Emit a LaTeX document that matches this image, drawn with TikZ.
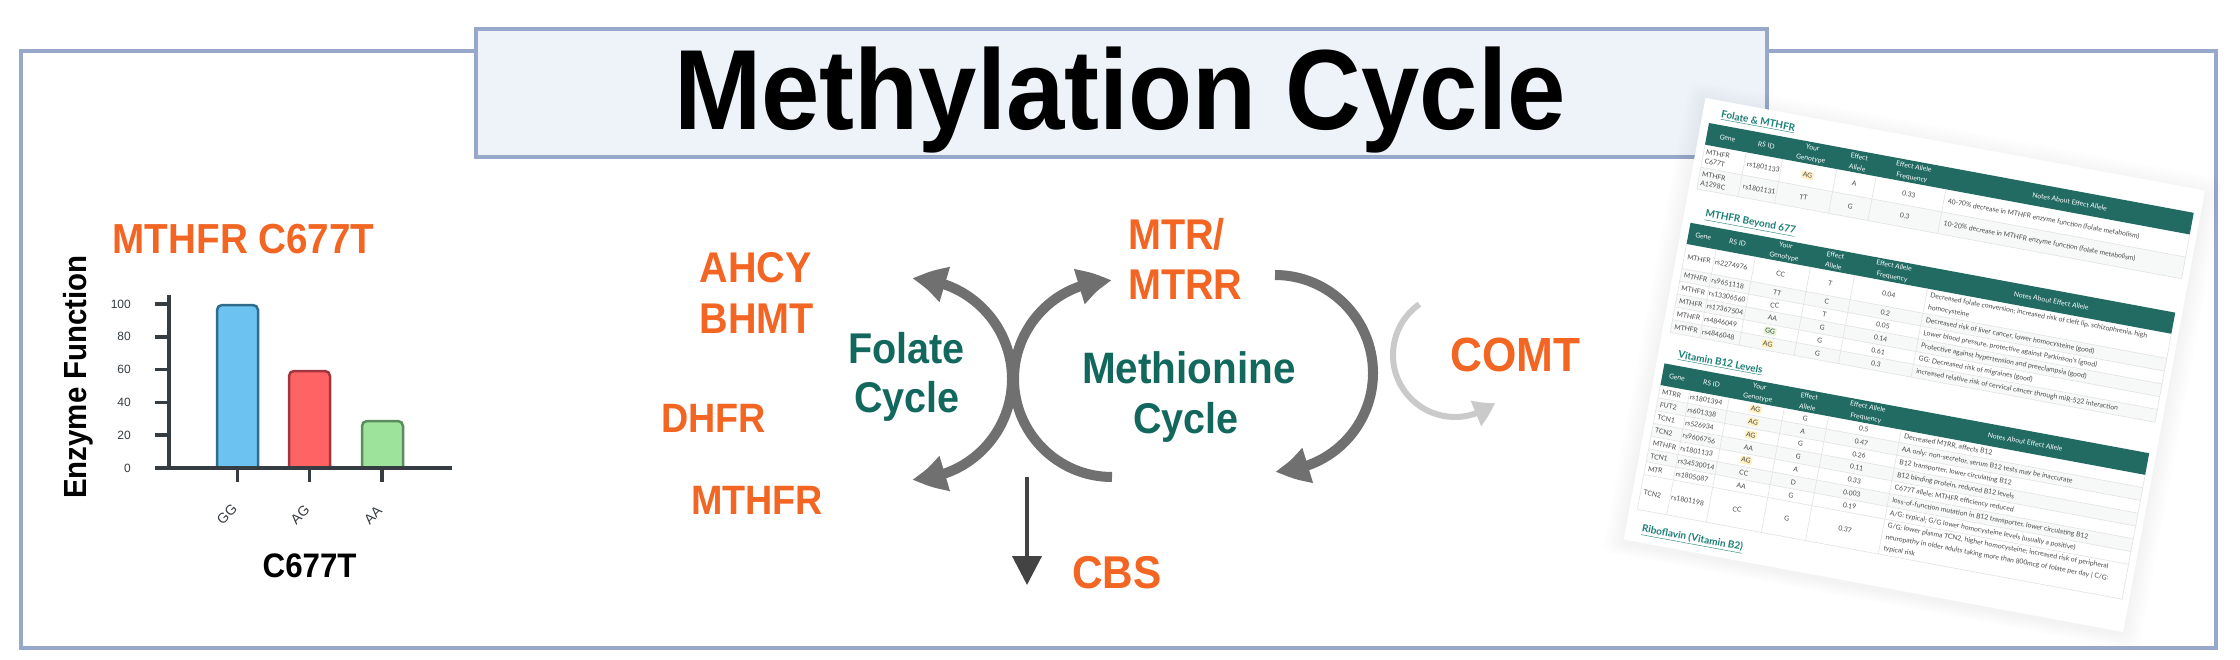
\documentclass[tikz,border=0pt]{standalone}
\usepackage{fontspec}
\setmainfont{Liberation Sans}
\newfontfamily\lblfont{Liberation Sans}[FakeStretch=0.92]
\newfontfamily\tblfont{Lato}
\usetikzlibrary{arrows.meta,bending}
\definecolor{frameblue}{HTML}{97A8CA}
\definecolor{titlefill}{HTML}{EEF3FA}
\definecolor{orng}{HTML}{F26522}
\definecolor{tealtxt}{HTML}{12685C}
\definecolor{arcgray}{HTML}{707070}
\definecolor{lightarc}{HTML}{CACACA}
\definecolor{darkarrow}{HTML}{434343}
\definecolor{axisc}{HTML}{353C42}
\definecolor{barblue}{HTML}{6CC2F0}
\definecolor{barblueo}{HTML}{2F6B8C}
\definecolor{barred}{HTML}{FF6363}
\definecolor{barredo}{HTML}{A23640}
\definecolor{bargreen}{HTML}{9DE39C}
\definecolor{bargreeno}{HTML}{5B8C5E}
\definecolor{thead}{HTML}{216B63}
\definecolor{ttitle}{HTML}{1A7F74}
\definecolor{ttext}{HTML}{4A4A4A}
\definecolor{tgrid}{HTML}{E2E2E2}
\definecolor{rowalt}{HTML}{F7F8F8}
\definecolor{hlyel}{HTML}{FFF0BF}
\definecolor{hlgrn}{HTML}{E0F3D2}
\tikzset{
  lbl/.style={font=\lblfont\bfseries\fontsize{43}{48}\selectfont, text=orng, inner sep=0pt, anchor=base west},
  cyc/.style={lbl, text=tealtxt},
  arcline/.style={draw=arcgray, line width=10pt},
  axisline/.style={draw=axisc, line width=3.5pt},
  ticklbl/.style={font=\fontsize{12}{14}\selectfont, text=axisc, inner sep=0pt, anchor=east},
  catlbl/.style={font=\fontsize{14}{16}\selectfont, text=axisc, inner sep=0pt, rotate=45},
  tc/.style={font=\tblfont\fontsize{6.8}{9}\selectfont, text=ttext, inner sep=0pt},
  tl/.style={tc, anchor=west, align=left},
  th/.style={font=\tblfont\fontsize{6.8}{11}\selectfont, text=white, inner sep=0pt, align=center},
  ttl/.style={font=\tblfont\bfseries\fontsize{10}{12}\selectfont, text=ttitle, inner sep=0pt, anchor=west},
  hly/.style={fill=hlyel, inner sep=1.3pt, rounded corners=1pt},
  hlg/.style={fill=hlgrn, inner sep=1.3pt, rounded corners=1pt},
  nohl/.style={},
  gridl/.style={draw=tgrid, line width=0.6pt}
}
\newcommand\rowB[7]{%
  \node[tl] at (3,#1) {#2};
  \node[tl] at (31,#1) {#3};
  \node[tc,#4] at (98,#1) {#5};
  \node[tc] at (148.5,#1) {#6};
  \node[tc] at (208,#1) {#7};}
\newcommand\headB[1]{%
  \node[th] at (15,#1) {Gene};
  \node[th] at (50,#1) {RS ID};
  \node[th] at (98,#1) {Your\\Genotype};
  \node[th] at (148.5,#1) {Effect\\Allele};
  \node[th] at (208,#1) {Effect Allele\\Frequency};
  \node[th] at (369,#1) {Notes About Effect Allele};}
\begin{document}
\begin{tikzpicture}[x=1pt,y=-1pt, >={Triangle[length=34pt,width=34pt,bend]}]
\useasboundingbox (0,0) rectangle (2240,660);
\fill[white] (0,0) rectangle (2240,660);
% outer frame
\draw[draw=frameblue, line width=4pt] (21,51) rectangle (2216,648);
% title box
\node[draw=frameblue, fill=titlefill, line width=4pt, minimum width=1291pt, minimum height=128pt, inner sep=0pt, anchor=north west] (titlebox) at (474,27) {};
\node[font=\lblfont\bfseries\fontsize{114}{120}\selectfont, inner sep=0pt, anchor=base] (title) at (1120,130) {Methylation Cycle};

% ---- bar chart ----
\node[lbl, font=\lblfont\bfseries\fontsize{42}{46}\selectfont] (charttitle) at (112.5,254) {MTHFR C677T};
\filldraw[fill=barblue, draw=barblueo, line width=2.5pt, rounded corners=5pt] (217,468) -- (217,305) -- (258,305) -- (258,468);
\filldraw[fill=barred, draw=barredo, line width=2.5pt, rounded corners=5pt] (289,468) -- (289,371) -- (330,371) -- (330,468);
\filldraw[fill=bargreen, draw=bargreeno, line width=2.5pt, rounded corners=5pt] (362,468) -- (362,421) -- (403,421) -- (403,468);
\draw[axisline] (169,295) -- (169,468);
\draw[axisline] (155,468) -- (452,468);
\foreach \v in {0,20,40,60,80,100} {
  \draw[axisline] (155,{468-1.64*\v}) -- (169,{468-1.64*\v});
  \node[ticklbl] at (131,{468-1.64*\v}) {\v};
}
\foreach \x in {237.5,309.5,382} \draw[axisline] (\x,468) -- (\x,482);
\node[catlbl] (cgg) at (227,514) {GG};
\node[catlbl] (cag) at (300,515) {AG};
\node[catlbl] (caa) at (373,515) {AA};
\node[font=\lblfont\bfseries\fontsize{32}{36}\selectfont, rotate=90, anchor=base, inner sep=0pt] (ylab) at (86,377) {Enzyme Function};
\node[lbl, text=black, font=\lblfont\bfseries\fontsize{34}{38}\selectfont] (xlab) at (262.5,577) {C677T};

% ---- cycles ----
\draw[arcline, <->] (912,279) arc[start angle=-90, end angle=90, radius=100];
\draw[arcline, ->] (1112,477) arc[start angle=90, end angle=270, radius=98];
\draw[arcline, ->] (1275,275) arc[start angle=-90, end angle=90, radius=98];
\draw[draw=lightarc, line width=6pt, -{Triangle[length=22pt,width=26pt,bend]}] (1419.4,304.2) arc[start angle=235, end angle=50, radius=62];
\draw[draw=darkarrow, line width=4pt, -{Triangle[length=29pt,width=29pt]}] (1027,477) -- (1027,585);

\node[lbl] (ahcy) at (699.5,283) {AHCY};
\node[lbl] (bhmt) at (699.5,333) {BHMT};
\node[lbl, font=\lblfont\bfseries\fontsize{41}{46}\selectfont] (dhfr) at (661,432) {DHFR};
\node[lbl, font=\lblfont\bfseries\fontsize{41}{46}\selectfont] (mthfr) at (691,514) {MTHFR};
\node[lbl] (mtr) at (1128,250) {MTR/};
\node[lbl] (mtrr) at (1128,299) {MTRR};
\node[lbl, font=\lblfont\bfseries\fontsize{46}{50}\selectfont] (cbs) at (1072,588) {CBS};
\node[lbl, font=\lblfont\bfseries\fontsize{48}{52}\selectfont] (comt) at (1450,371) {COMT};
\node[cyc] (fol1) at (848,363) {Folate};
\node[cyc] (fol2) at (854,412) {Cycle};
\node[cyc, font=\lblfont\bfseries\fontsize{44}{48}\selectfont] (met1) at (1082,383) {Methionine};
\node[cyc] (met2) at (1133,433.5) {Cycle};

% ---- rotated table screenshot ----
\begin{scope}[shift={(1709,123)}, rotate=-10.5, transform shape]
  \foreach \i in {1,...,12} {
    \fill[black, opacity=0.005, rounded corners=8pt] ({-8-1.6*\i},{-24-1.6*\i+4}) rectangle ({500+1.6*\i},{425+1.1*\i+3});
  }
  \fill[white] (-8,-24) rectangle (500,425);
  % table 1
  \node[ttl] at (10.5,-10) {\underline{Folate \& MTHFR}};
  \fill[thead] (0,0) rectangle (493,22);
  \node[th] at (21,11.5) {Gene};
  \node[th] at (60.5,11.5) {RS ID};
  \node[th] at (106.5,11.5) {Your\\Genotype};
  \node[th] at (154,11.5) {Effect\\Allele};
  \node[th] at (209.5,11.5) {Effect Allele\\Frequency};
  \node[th] at (369,11.5) {Notes About Effect Allele};
  \fill[rowalt] (0,45) rectangle (493,67);
  \draw[gridl] (0,45) -- (493,45) (0,67) -- (493,67) (0,22) -- (0,67) (493,22) -- (493,67);
  \foreach \x in {42,79,134,174,245} \draw[gridl] (\x,22) -- (\x,67);
  \node[tl] at (2.5,33.5) {MTHFR\\C677T};
  \node[tc] at (61.5,33.5) {rs1801133};
  \node[tc,hly] at (106.5,33.5) {AG};
  \node[tc] at (154,33.5) {A};
  \node[tc] at (209.5,33.5) {0.33};
  \node[tl] at (249,33.5) {40-70\% decrease in MTHFR enzyme function (folate metabolism)};
  \node[tl] at (2.5,56) {MTHFR\\A1298C};
  \node[tc] at (61.5,56) {rs1801131};
  \node[tc] at (106.5,56) {TT};
  \node[tc] at (154,56) {G};
  \node[tc] at (209.5,56) {0.3};
  \node[tl] at (249,56) {10-20\% decrease in MTHFR enzyme function (folate metabolism)};
  % table 2
  \node[ttl] at (13,91) {\underline{MTHFR Beyond 677}};
  \fill[thead] (0,101.5) rectangle (493,123);
  \headB{112.5}
  \foreach \y in {148,174,200} \fill[rowalt] (0,\y) rectangle (493,\y+13);
  \foreach \y in {148,161,174,187,200,213} \draw[gridl] (0,\y) -- (493,\y);
  \foreach \x in {0,30,70,126,171,245,493} \draw[gridl] (\x,123) -- (\x,213);
  \rowB{135.5}{MTHFR}{rs2274976}{nohl}{CC}{T}{0.04}
  \node[tl, font=\tblfont\fontsize{6.8}{12}\selectfont] at (249,135.5) {Decreased folate conversion; increased risk of cleft lip, schizophrenia, high\\homocysteine};
  \rowB{154.5}{MTHFR}{rs9651118}{nohl}{TT}{C}{0.2}
  \node[tl] at (249,154.5) {Decreased risk of liver cancer, lower homocysteine (good)};
  \rowB{167.5}{MTHFR}{rs13306560}{nohl}{CC}{T}{0.05}
  \node[tl] at (249,167.5) {Lower blood pressure, protective against Parkinson's (good)};
  \rowB{180.5}{MTHFR}{rs17367504}{nohl}{AA}{G}{0.14}
  \node[tl] at (249,180.5) {Protective against hypertension and preeclampsia (good)};
  \rowB{193.5}{MTHFR}{rs4846049}{hlg}{GG}{G}{0.61}
  \node[tl] at (249,193.5) {GG: Decreased risk of migraines (good)};
  \rowB{206.5}{MTHFR}{rs4846048}{hly}{AG}{G}{0.3}
  \node[tl] at (249,206.5) {increased relative risk of cervical cancer through miR-522 interaction};
  % table 3
  \node[ttl] at (12,234) {\underline{Vitamin B12 Levels}};
  \fill[thead] (0,244.5) rectangle (493,266.5);
  \headB{256}
  \foreach \y in {279.5,305.5,331.5} \fill[rowalt] (0,\y) rectangle (493,\y+13);
  \foreach \y in {279.5,292.5,305.5,318.5,331.5,344.5,357.5,393} \draw[gridl] (0,\y) -- (493,\y);
  \foreach \x in {0,30,70,126,171,245,493} \draw[gridl] (\x,266.5) -- (\x,393);
  \rowB{273}{MTRR}{rs1801394}{hly}{AG}{G}{0.5}
  \node[tl] at (249,273) {Decreased MTRR, affects B12};
  \rowB{286}{FUT2}{rs601338}{hly}{AG}{A}{0.47}
  \node[tl] at (249,286) {AA only: non-secretor, serum B12 tests may be inaccurate};
  \rowB{299}{TCN1}{rs526934}{hly}{AG}{G}{0.26}
  \node[tl] at (249,299) {B12 transporter, lower circulating B12};
  \rowB{312}{TCN2}{rs9606756}{nohl}{AA}{G}{0.11}
  \node[tl] at (249,312) {B12 binding protein, reduced B12 levels};
  \rowB{325}{MTHFR}{rs1801133}{hly}{AG}{A}{0.33}
  \node[tl] at (249,325) {C677T allele; MTHFR efficiency reduced};
  \rowB{338}{TCN1}{rs34530014}{nohl}{CC}{D}{0.003}
  \node[tl] at (249,338) {loss-of-function mutation in B12 transporter, lower circulating B12};
  \rowB{351}{MTR}{rs1805087}{nohl}{AA}{G}{0.19}
  \node[tl] at (249,351) {A/G: typical; G/G lower homocysteine levels (usually a positive)};
  \rowB{375}{TCN2}{rs1801198}{nohl}{CC}{G}{0.37}
  \node[tl, font=\tblfont\fontsize{6.8}{11.5}\selectfont] at (249,375) {G/G: lower plasma TCN2, higher homocysteine; increased risk of peripheral\\neuropathy in older adults taking more than 800mcg of folate per day | C/G:\\typical risk};
  \node[ttl] at (8,412) {\underline{Riboflavin (Vitamin B2)}};
\end{scope}
\end{tikzpicture}
\end{document}
